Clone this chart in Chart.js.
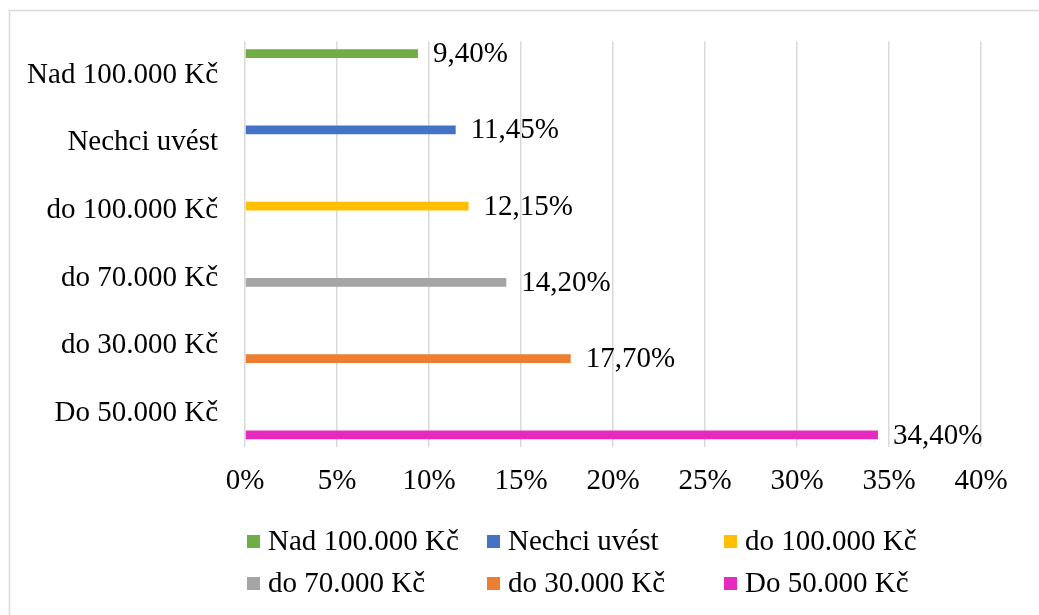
<!DOCTYPE html>
<html>
<head>
<meta charset="utf-8">
<script src="https://cdn.jsdelivr.net/npm/chart.js@4.4.0/dist/chart.umd.min.js"></script>
<style>
html,body{margin:0;padding:0;background:#fff;overflow:hidden;}
#wrap{width:1039px;height:615px;position:relative;}
canvas{display:block;}
</style>
</head>
<body>
<div id="wrap"><canvas id="c" width="1039" height="615"></canvas></div>
<script>
// ---- data ----
const categories = ['Nad 100.000 Kč', 'Nechci uvést', 'do 100.000 Kč', 'do 70.000 Kč', 'do 30.000 Kč', 'Do 50.000 Kč'];
const seriesNames = ['Nad 100.000 Kč', 'Nechci uvést', 'do 100.000 Kč', 'do 70.000 Kč', 'do 30.000 Kč', 'Do 50.000 Kč'];
const seriesValues = [9.40, 11.45, 12.15, 14.20, 17.70, 34.40];
const seriesColors = ['#70AD47', '#4472C4', '#FFC000', '#A5A5A5', '#ED7D31', '#E62AC0'];
const xTicks = [0, 5, 10, 15, 20, 25, 30, 35, 40];

const FONT = "'Liberation Serif', 'Times New Roman', serif";
const FS = 29;

const datasets = seriesNames.map((name, i) => ({
  label: name,
  data: categories.map((c, j) => (j === i ? seriesValues[i] : null)),
  backgroundColor: seriesColors[i],
  borderWidth: 0,
  barPercentage: 1.0,
  categoryPercentage: 0.77
}));

const framePlugin = {
  id: 'frame',
  beforeDraw(chart) {
    const ctx = chart.ctx;
    ctx.save();
    ctx.fillStyle = '#ffffff';
    ctx.fillRect(0, 0, chart.width, chart.height);
    ctx.strokeStyle = '#d9d9d9';
    ctx.lineWidth = 1.5;
    ctx.beginPath();
    ctx.moveTo(9.5, chart.height);
    ctx.lineTo(9.5, 10.5);
    ctx.lineTo(chart.width, 10.5);
    ctx.stroke();
    ctx.restore();
  }
};

const valueLabels = {
  id: 'valueLabels',
  afterDatasetsDraw(chart) {
    const ctx = chart.ctx;
    ctx.save();
    ctx.font = FS + 'px ' + FONT;
    ctx.fillStyle = '#000';
    ctx.textAlign = 'left';
    ctx.textBaseline = 'middle';
    chart.data.datasets.forEach((ds, i) => {
      const meta = chart.getDatasetMeta(i);
      meta.data.forEach((el, j) => {
        const v = ds.data[j];
        if (v === null || v === undefined) return;
        const txt = v.toFixed(2).replace('.', ',') + '%';
        ctx.fillText(txt, el.x + 15, el.y + 1);
      });
    });
    ctx.restore();
  }
};

const gridLegend = {
  id: 'gridLegend',
  afterDraw(chart) {
    const ctx = chart.ctx;
    const cols = [247, 487, 724];
    const rows = [541, 583];
    ctx.save();
    ctx.font = FS + 'px ' + FONT;
    ctx.textAlign = 'left';
    ctx.textBaseline = 'middle';
    chart.data.datasets.forEach((ds, i) => {
      const x = cols[i % 3];
      const y = rows[Math.floor(i / 3)];
      ctx.fillStyle = ds.backgroundColor;
      ctx.fillRect(x, y - 6, 13, 13);
      ctx.fillStyle = '#000';
      ctx.fillText(ds.label, x + 21, y + 1);
    });
    ctx.restore();
  }
};

new Chart(document.getElementById('c'), {
  type: 'bar',
  data: { labels: categories, datasets: datasets },
  options: {
    indexAxis: 'y',
    responsive: false,
    animation: false,
    devicePixelRatio: 1,
    layout: { padding: { top: 36.5, right: 58, bottom: 0, left: 0 } },
    scales: {
      y: {
        type: 'category',
        grid: { display: false, drawTicks: false },
        border: { display: false },
        ticks: { color: '#000', font: { family: FONT, size: FS, lineHeight: 1 }, padding: 27 },
        afterFit(s) { s.width = 245; }
      },
      x: {
        type: 'linear',
        min: xTicks[0],
        max: xTicks[xTicks.length - 1],
        afterBuildTicks(s) { s.ticks = xTicks.map(v => ({ value: v })); },
        grid: { color: '#d9d9d9', lineWidth: 1.5, drawTicks: false },
        border: { display: false },
        ticks: {
          color: '#000',
          font: { family: FONT, size: FS },
          padding: 17,
          callback: v => v + '%'
        },
        afterFit(s) { s.height = 168; }
      }
    },
    plugins: {
      legend: { display: false },
      tooltip: { enabled: false },
      title: { display: false }
    }
  },
  plugins: [framePlugin, valueLabels, gridLegend]
});
</script>
</body>
</html>
